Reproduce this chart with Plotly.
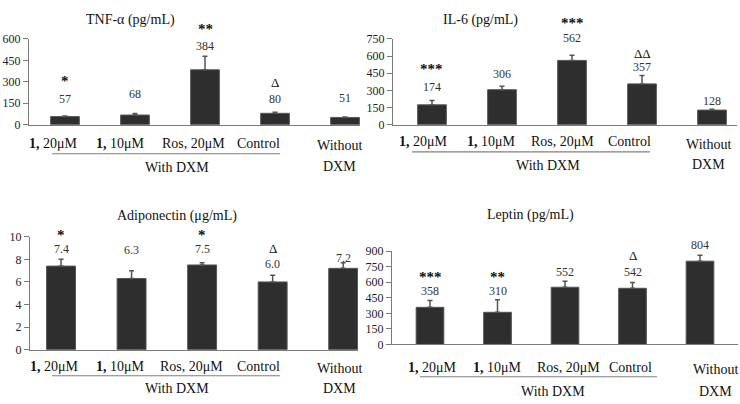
import plotly.graph_objects as go

W, H = 740, 404
FONT = "Liberation Serif"

# ---------------- data ----------------
categories = ["<b>1,</b> 20μM", "<b>1,</b> 10μM", "Ros, 20μM", "Control", "Without"]
group_label = "With DXM"
group_label2 = "DXM"

titles = ["TNF-α (pg/mL)", "IL-6 (pg/mL)", "Adiponectin (μg/mL)", "Leptin (pg/mL)"]

tnf_values = [57, 68, 384, 80, 51]
tnf_errors = [5, 10, 94, 8, 4]
tnf_sig = ["*", "", "**", "Δ", ""]
tnf_ticks = [0, 150, 300, 450, 600]

il6_values = [174, 306, 562, 357, 128]
il6_errors = [37, 31, 45, 73, 7]
il6_sig = ["***", "", "***", "ΔΔ", ""]
il6_ticks = [0, 150, 300, 450, 600, 750]

adipo_values = [7.4, 6.3, 7.5, 6.0, 7.2]
adipo_errors = [0.6, 0.7, 0.2, 0.6, 0.5]
adipo_labels = ["7.4", "6.3", "7.5", "6.0", "7.2"]
adipo_sig = ["*", "", "*", "Δ", ""]
adipo_ticks = [0, 2, 4, 6, 8, 10]

leptin_values = [358, 310, 552, 542, 804]
leptin_errors = [66, 122, 58, 55, 58]
leptin_sig = ["***", "**", "", "Δ", ""]
leptin_ticks = [0, 150, 300, 450, 600, 750, 900]

# ---------------- layout (pixel geometry) ----------------
def px(x):
    return x / W

def py(y):
    return 1 - y / H

panels = [
    dict(values=tnf_values, errors=tnf_errors, labels=[str(v) for v in tnf_values],
         sig=tnf_sig, ticks=tnf_ticks,
         xdom=(29, 360), ydom=(122, 33), xrange=(-0.514, 4.214),
         val_y=[95, 90, 40, 95, 94], sig_y=[77, None, 23, 78, None],
         title_xy=(130, 13), cat_y=141, cat_shift=[-11, -14, -12, -17, -6],
         without_y=143, group_line=(52, 280, 152), group_xy=(177, 166), dxm_y=165),
    dict(values=il6_values, errors=il6_errors, labels=[str(v) for v in il6_values],
         sig=il6_sig, ticks=il6_ticks,
         xdom=(393, 737), ydom=(122, 33), xrange=(-0.557, 4.357),
         val_y=[83, 69, 32, 62, 97], sig_y=[64, None, 17, 48, None],
         title_xy=(480, 13), cat_y=139, cat_shift=[-8, -11, -10, -13, -4],
         without_y=142, group_line=(412, 650, 150), group_xy=(548, 164), dxm_y=163),
    dict(values=adipo_values, errors=adipo_errors, labels=adipo_labels,
         sig=adipo_sig, ticks=adipo_ticks,
         xdom=(30, 358), ydom=(355, 238), xrange=(-0.44, 4.21),
         val_y=[251, 252, 251, 266, 260], sig_y=[236, None, 236, 250, None],
         title_xy=(177, 217), cat_y=372, cat_shift=[-7, -11, -11, -14, -4],
         without_y=374, group_line=(52, 280, 382), group_xy=(177, 395), dxm_y=395),
    dict(values=leptin_values, errors=leptin_errors, labels=[str(v) for v in leptin_values],
         sig=leptin_sig, ticks=leptin_ticks,
         xdom=(392, 738), ydom=(349.5, 253), xrange=(-0.563, 4.563),
         val_y=[294, 294, 274, 275, 247], sig_y=[280, 280, None, 257, None],
         title_xy=(530, 215), cat_y=373, cat_shift=[2, 0, 3, -2, 15],
         without_y=376, group_line=(420, 657, 383), group_xy=(553, 398), dxm_y=398),
]

fig = go.Figure()
annotations = []
shapes = []
AXIS_COLOR = "#7a7a7a"

for i, p in enumerate(panels, start=1):
    xa = "x" if i == 1 else f"x{i}"
    ya = "y" if i == 1 else f"y{i}"
    xs = list(range(len(p["values"])))
    fig.add_trace(go.Bar(
        x=xs, y=p["values"], xaxis=xa, yaxis=ya, width=0.41,
        marker=dict(color="#2e2e2e", line=dict(color="#555555", width=1)),
        error_y=dict(type="data", array=p["errors"], symmetric=False,
                     arrayminus=[0] * len(xs), color="#555555",
                     thickness=1.5, width=2.5),
        showlegend=False, hoverinfo="skip",
    ))
    ymax = p["ticks"][-1]
    fig.layout[f"xaxis{'' if i == 1 else i}"] = dict(
        domain=[px(p["xdom"][0]), px(p["xdom"][1])], range=list(p["xrange"]),
        anchor=ya, showline=True, linecolor=AXIS_COLOR, linewidth=1,
        showticklabels=False, ticks="", showgrid=False, zeroline=False,
        fixedrange=True,
    )
    fig.layout[f"yaxis{'' if i == 1 else i}"] = dict(
        domain=[py(p["ydom"][0]), py(p["ydom"][1])], range=[0, ymax],
        anchor=xa, showline=True, linecolor=AXIS_COLOR, linewidth=1,
        tickvals=p["ticks"], ticks="outside", ticklen=5, tickcolor=AXIS_COLOR,
        tickfont=dict(family=FONT, size=12, color="#222222"),
        showgrid=False, zeroline=False, fixedrange=True,
    )

    # title
    annotations.append(dict(x=px(p["title_xy"][0]), y=py(p["title_xy"][1]),
                            xref="paper", yref="paper", text=titles[i - 1],
                            showarrow=False, xanchor="center", yanchor="middle",
                            font=dict(family=FONT, size=14, color="#111111")))

    # value labels and significance markers
    for k in xs:
        annotations.append(dict(x=k, xref=xa, y=py(p["val_y"][k]), yref="paper",
                                text=p["labels"][k], showarrow=False,
                                xanchor="center", yanchor="middle",
                                font=dict(family=FONT, size=12, color="#333333")))
        if p["sig"][k]:
            is_delta = "Δ" in p["sig"][k]
            annotations.append(dict(x=k, xref=xa, y=py(p["sig_y"][k]), yref="paper",
                                    text=p["sig"][k] if is_delta else f"<b>{p['sig'][k]}</b>",
                                    showarrow=False, xanchor="center", yanchor="middle",
                                    font=dict(family=FONT, size=13 if is_delta else 15,
                                              color="#111111")))

    # category labels
    for k, c in enumerate(categories):
        yy = p["without_y"] if k == len(categories) - 1 else p["cat_y"]
        annotations.append(dict(x=k, xref=xa, y=py(yy), yref="paper", text=c,
                                xshift=p["cat_shift"][k], showarrow=False,
                                xanchor="center", yanchor="middle",
                                font=dict(family=FONT, size=14, color="#111111")))
    # "DXM" under "Without"
    annotations.append(dict(x=len(categories) - 1, xref=xa, y=py(p["dxm_y"]), yref="paper",
                            text=group_label2, xshift=p["cat_shift"][-1], showarrow=False,
                            xanchor="center", yanchor="middle",
                            font=dict(family=FONT, size=14, color="#111111")))
    # group line + label
    gx0, gx1, gy = p["group_line"]
    shapes.append(dict(type="line", xref="paper", yref="paper",
                       x0=px(gx0), x1=px(gx1), y0=py(gy), y1=py(gy),
                       line=dict(color="#808080", width=1.2)))
    annotations.append(dict(x=px(p["group_xy"][0]), y=py(p["group_xy"][1]),
                            xref="paper", yref="paper", text=group_label,
                            showarrow=False, xanchor="center", yanchor="middle",
                            font=dict(family=FONT, size=14, color="#111111")))

fig.update_layout(
    width=W, height=H, margin=dict(l=0, r=0, t=0, b=0),
    paper_bgcolor="white", plot_bgcolor="white",
    annotations=annotations, shapes=shapes, showlegend=False,
    font=dict(family=FONT),
)

fig.write_html(
    "out.html",
    config={"displayModeBar": False},
    post_script="document.body.style.margin='0';document.body.style.padding='0';"
                "document.documentElement.style.overflow='hidden';",
)
